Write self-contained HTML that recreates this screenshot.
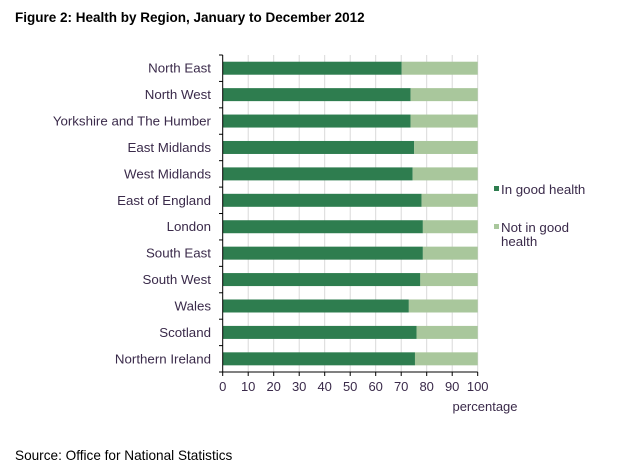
<!DOCTYPE html>
<html><head><style>
body{margin:0;background:#fff;width:620px;height:471px;overflow:hidden;font-family:"Liberation Sans",sans-serif;}
</style></head><body>
<svg width="620" height="471" xmlns="http://www.w3.org/2000/svg" font-family="Liberation Sans, sans-serif">
<text x="15" y="22" font-size="13.5" font-weight="bold" fill="#000">Figure 2: Health by Region, January to December 2012</text>
<g stroke="#d9d9d9" stroke-width="1">
<line x1="248.2" y1="55" x2="248.2" y2="372"/><line x1="273.7" y1="55" x2="273.7" y2="372"/>
<line x1="299.2" y1="55" x2="299.2" y2="372"/><line x1="324.7" y1="55" x2="324.7" y2="372"/>
<line x1="350.2" y1="55" x2="350.2" y2="372"/><line x1="375.7" y1="55" x2="375.7" y2="372"/>
<line x1="401.2" y1="55" x2="401.2" y2="372"/><line x1="426.7" y1="55" x2="426.7" y2="372"/>
<line x1="452.2" y1="55" x2="452.2" y2="372"/><line x1="477.7" y1="55" x2="477.7" y2="372"/>
</g>
<g id="bars"></g>
<g stroke="#000" stroke-width="1">
<line x1="222.7" y1="55" x2="222.7" y2="372"/>
<line x1="222.7" y1="372" x2="477.7" y2="372"/>
</g>
<g id="ticks" stroke="#000"></g>
<g font-size="13.3" fill="#3a2a4a" text-anchor="end" id="labels"></g>
<g font-size="13" fill="#3a2a4a" text-anchor="middle" id="xl"></g>
<text x="485" y="411" font-size="13" fill="#3a2a4a" text-anchor="middle">percentage</text>
<rect x="494" y="186" width="5" height="5" fill="#2e7d4f"/>
<text x="501" y="194" font-size="13.3" fill="#3a2a4a">In good health</text>
<rect x="494" y="224" width="5" height="5" fill="#a9c79c"/>
<text x="501" y="232" font-size="13.3" fill="#3a2a4a">Not in good</text>
<text x="501" y="246" font-size="13.3" fill="#3a2a4a">health</text>
<text x="15" y="460" font-size="13.6" fill="#000">Source: Office for National Statistics</text>
</svg>
<script>
(function(){
var names=["North East","North West","Yorkshire and The Humber","East Midlands","West Midlands","East of England","London","South East","South West","Wales","Scotland","Northern Ireland"];
var vals=[70.2,73.7,73.7,75.1,74.5,78,78.5,78.5,77.5,73,76,75.4];
var ns="http://www.w3.org/2000/svg";
function el(t,a,p,txt){var e=document.createElementNS(ns,t);for(var k in a)e.setAttribute(k,a[k]);if(txt)e.textContent=txt;document.getElementById(p).appendChild(e);}
var x0=222.7,s=2.55,y0=55,h=26.42;
for(var i=0;i<12;i++){var c=y0+h*(i+0.5);var w=vals[i]*s;
el("rect",{x:x0,y:c-6.5,width:w,height:13,fill:"#2e7d4f"},"bars");
el("rect",{x:x0+w,y:c-6.5,width:255-w,height:13,fill:"#a9c79c"},"bars");
el("text",{x:211,y:c+4.5},"labels",names[i]);
el("line",{x1:219,y1:y0+h*i,x2:222.7,y2:y0+h*i},"ticks");}
el("line",{x1:219,y1:372,x2:222.7,y2:372},"ticks");
for(var j=0;j<=10;j++){var x=x0+j*25.5;el("line",{x1:x,y1:372,x2:x,y2:376},"ticks");el("text",{x:x,y:391},"xl",String(j*10));}
})();
</script>
</body></html>
